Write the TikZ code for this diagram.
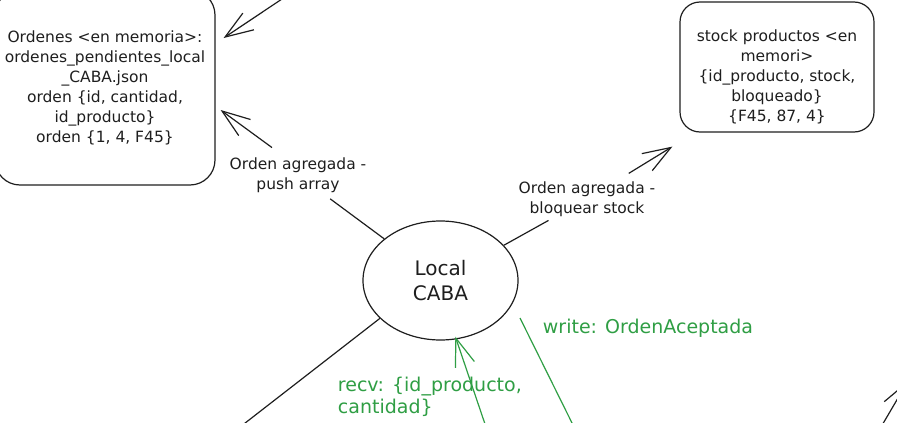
\documentclass[tikz,border=0pt]{standalone}
\usepackage{fontspec}
\setmainfont{DejaVu Sans}
\usetikzlibrary{arrows.meta,shapes.geometric}
\definecolor{ink}{HTML}{1E1E1E}
\definecolor{leaf}{HTML}{2F9E44}
\begin{document}
\begin{tikzpicture}[
  x = 1pt,
  y = -1pt,
  box/.style = {
    shape = rectangle,
    draw = ink,
    rounded corners = 25pt,
    inner sep = 0pt
  },
  note/.style = {
    align = center,
    text = ink,
    font = \fontsize{15.5}{20}\selectfont
  },
  green note/.style = {
    align = left,
    anchor = west,
    text = leaf,
    font = \fontsize{19}{22.5}\selectfont
  },
  link/.style = {
    draw = ink
  },
  flow/.style = {
    draw = ink,
    -{Straight Barb[length = 28pt, width = 20pt]}
  },
  every path/.style = {
    line width = 1.2pt
  }
]
  \useasboundingbox (0, 0) rectangle (897, 423);

  \node[box, note, minimum width = 220pt, minimum height = 195pt] (ordenes) at (105, 87.5)
    {Ordenes <en memoria>:\\ ordenes\_pendientes\_local\\ \_CABA.json\\ orden \{id, cantidad,\\ id\_producto\}\\ orden \{1, 4, F45\}};
  \node[box, rounded corners = 20pt, minimum width = 194pt, minimum height = 130pt] (stock) at (777, 67) {};
  \node[note] (stocktext) at (777, 77)
    {stock productos <en\\ memori>\\ \{id\_producto, stock,\\ bloqueado\}\\ \{F45, 87, 4\}};
  \node[ellipse, draw = ink, note, font = \fontsize{20}{25}\selectfont,
    minimum width = 155pt, minimum height = 119pt, inner sep = 0pt] (local) at (440.5, 280.5) {Local\\ CABA};

  \node[note] (pushlbl) at (298, 175) {Orden agregada -\\ push array};
  \node[note] (stocklbl) at (587, 199) {Orden agregada -\\ bloquear stock};
  \node[green note] (writelbl) at (539, 328) {write: OrdenAceptada};
  \node[green note] (recvlbl) at (334, 397) {recv: \{id\_producto,\\ cantidad\}};

  \coordinate (topsrc) at (288, -5);
  \coordinate (offsw) at (240, 427);
  \coordinate (recvsrc) at (486, 427);
  \coordinate (writetop) at (520, 318);
  \coordinate (writebot) at (574, 427);
  \coordinate (edgesrc) at (881, 427);
  \coordinate (edgetip) at (908, 381);

  \draw[flow] (topsrc) -- ([xshift = 8pt, yshift = 49.5pt] ordenes.east);
  \draw[flow] ([xshift = -26pt, yshift = 6pt] pushlbl.north) -- ([xshift = 5pt, yshift = -22.5pt] ordenes.east);
  \draw[link, shorten <= 4pt] (pushlbl) -- (local);
  \draw[link] (local) -- (stocklbl);
  \draw[flow, shorten <= 8pt] (stocklbl) -- ([xshift = -7pt, yshift = -14pt] stock.south west);
  \draw[link] (local.212) -- (offsw);
  \draw[flow, draw = leaf, shorten >= -3pt] (recvsrc) -- (local.285);
  \draw[link, draw = leaf] (writetop) -- (writebot);
  \draw[flow] (edgesrc) -- (edgetip);
\end{tikzpicture}
\end{document}
